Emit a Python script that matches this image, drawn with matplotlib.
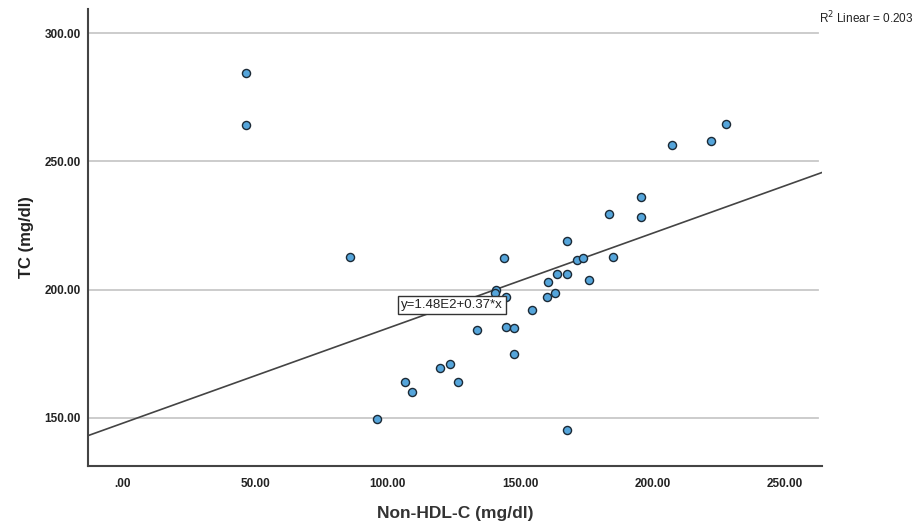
import matplotlib
matplotlib.use("Agg")
import matplotlib.pyplot as plt
import numpy as np

# Data
non_hdl = [46.6, 46.6, 85.8, 96.0, 106.6, 109.2, 119.8, 123.6, 126.6, 133.8,
           140.9, 140.5, 144.5, 144.1, 144.6, 147.6, 147.6, 154.6, 160.2, 163.2,
           160.4, 164.0, 167.6, 167.6, 171.5, 173.8, 176.0, 185.2, 183.6, 167.6,
           195.5, 195.5, 207.2, 222.0, 227.6]
tc = [284.4, 264.1, 212.7, 149.6, 164.0, 160.1, 169.5, 171.0, 164.0, 184.3,
      199.9, 198.8, 197.3, 212.4, 185.5, 185.0, 174.8, 192.0, 197.1, 198.6,
      202.9, 206.0, 206.0, 218.8, 211.4, 212.3, 203.9, 212.7, 229.4, 145.2,
      236.1, 228.4, 256.3, 258.0, 264.5]

intercept = 148.0
slope = 0.37
r2_text = "R$^2$ Linear = 0.203"
eq_text = "y=1.48E2+0.37*x"

x_ticks = [0, 50, 100, 150, 200, 250]
y_ticks = [150, 200, 250, 300]

plt.rcParams['font.family'] = ['Liberation Sans', 'DejaVu Sans']

fig = plt.figure(figsize=(9.24, 5.30), dpi=100)
ax = fig.add_axes([0.0952, 0.1208, 0.7944, 0.8622])

xmin, xmax = -13.2, 264.0
ymin, ymax = 131.3, 309.4
ax.set_xlim(xmin, xmax)
ax.set_ylim(ymin, ymax)

# horizontal grid lines
for yt in y_ticks:
    ax.axhline(yt, color="#c8c8c8", lw=1.3, zorder=0, xmax=0.995)

# fit line
lx = np.array([xmin, xmax])
ax.plot(lx, intercept + slope * lx, color="#444444", lw=1.2, zorder=2)

ax.scatter(non_hdl, tc, s=34, facecolor="#55a5db", edgecolor="#1c2a36",
           linewidth=1.0, zorder=3)

# equation box
ax.text(124.3, intercept + slope * 124.3, eq_text, ha="center", va="center",
        fontsize=9.5, color="#222222", zorder=4,
        bbox=dict(boxstyle="square,pad=0.25", fc="white", ec="#333333", lw=1.0))

fig.text(0.886, 0.966, r2_text, fontsize=8.5, color="#222222", ha="left", va="center")

ax.set_xticks(x_ticks)
ax.set_xticklabels(["." + "00" if v == 0 else f"{v:.2f}" for v in x_ticks])
ax.set_yticks(y_ticks)
ax.set_yticklabels([f"{v:.2f}" for v in y_ticks])
ax.tick_params(axis="x", length=0, labelsize=8.5, pad=9)
ax.tick_params(axis="y", length=0, labelsize=8.5, pad=5)
for lab in ax.get_xticklabels() + ax.get_yticklabels():
    lab.set_fontweight("bold")
    lab.set_fontfamily(['Liberation Sans Narrow', 'Liberation Sans'])
    lab.set_color("#222222")

ax.set_xlabel("Non-HDL-C (mg/dl)", fontsize=12.5, fontweight="bold", color="#333333", labelpad=11)
ax.set_ylabel("TC (mg/dl)", fontsize=12, fontweight="bold", color="#222222", labelpad=8)

for side in ["top", "right"]:
    ax.spines[side].set_visible(False)
for side in ["left", "bottom"]:
    ax.spines[side].set_color("#444444")
    ax.spines[side].set_linewidth(1.5)

fig.savefig("out.png", dpi=100)
